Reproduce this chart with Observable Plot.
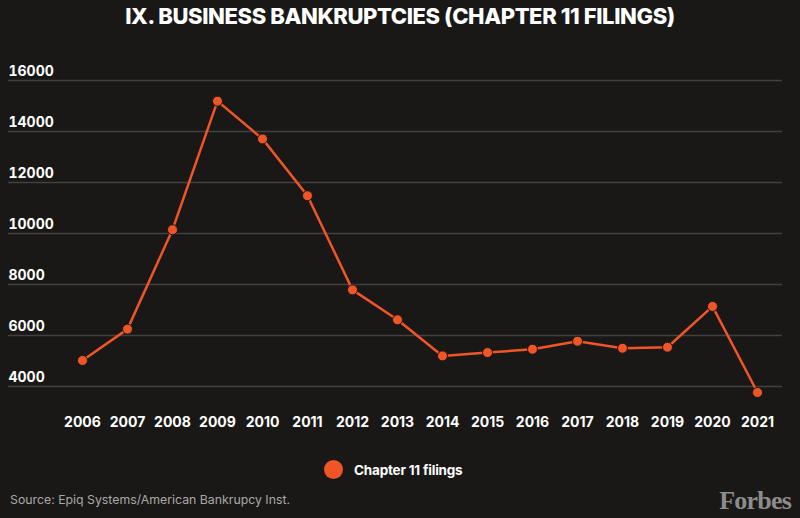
<!DOCTYPE html>
<html>
<head>
<meta charset="utf-8">
<script src="https://cdn.jsdelivr.net/npm/d3@7"></script>
<script src="https://cdn.jsdelivr.net/npm/@observablehq/plot@0.6"></script>
<style>
  html, body { margin: 0; padding: 0; background: #1a1817; }
  #wrap { position: relative; width: 800px; height: 518px; background: #1a1817; overflow: hidden; font-family: Inter, "Noto Sans", sans-serif; }
  #title { position: absolute; left: 0; top: 4px; width: 800px; text-align: center; color: #fff; font-weight: 800; font-size: 22px; letter-spacing: -0.4px; line-height: 24px; }
  #chart { position: absolute; left: 0; top: 40px; }
  #legend { position: absolute; left: 324px; top: 460px; display: flex; align-items: center; color: #fff; font-weight: 700; font-size: 13.5px; letter-spacing: -0.2px; }
  #legend .sw { width: 19px; height: 19px; border-radius: 50%; background: #ef5527; margin-right: 11px; }
  #source { position: absolute; left: 10px; top: 492px; color: #a8a8a8; font-size: 12.3px; }
  #logo { position: absolute; right: 9px; top: 486px; color: #8c8c8c; font-family: "Liberation Serif", "DejaVu Serif", serif; font-weight: 700; font-size: 26px; letter-spacing: -0.8px; }
</style>
</head>
<body>
<div id="wrap">
  <div id="title">IX. BUSINESS BANKRUPTCIES (CHAPTER 11 FILINGS)</div>
  <div id="chart"></div>
  <div id="legend"><span class="sw"></span><span>Chapter 11 filings</span></div>
  <div id="source">Source: Epiq Systems/American Bankrupcy Inst.</div>
  <div id="logo">Forbes</div>
</div>
<script>
const years = ["2006","2007","2008","2009","2010","2011","2012","2013","2014","2015","2016","2017","2018","2019","2020","2021"];
const filings = [5020, 6250, 10150, 15190, 13710, 11480, 7790, 6615, 5200, 5330, 5460, 5775, 5500, 5540, 7140, 3765];
const yTicks = [4000, 6000, 8000, 10000, 12000, 14000, 16000];

const data = years.map((y, i) => ({year: y, value: filings[i]}));
const color = "#ef5527";

const plot = Plot.plot({
  width: 800,
  height: 405,
  marginLeft: 8,
  marginRight: 18,
  marginTop: 40,
  marginBottom: 59,
  insetLeft: 71,
  insetRight: 23,
  style: {background: "transparent", color: "#fff", fontFamily: "Inter, 'Noto Sans', sans-serif"},
  x: {type: "point", domain: years, padding: 0},
  y: {domain: [4000, 16000], ticks: yTicks},
  marks: [
    Plot.ruleY(yTicks, {stroke: "#434140", strokeWidth: 1.5}),
    Plot.axisY({ticks: yTicks, tickSize: 0, tickPadding: 0, textAnchor: "start", dx: 0, dy: -9, fontSize: 14, fontWeight: 700, fill: "#fff", tickFormat: d => String(d), label: null}),
    Plot.axisX({tickSize: 0, tickPadding: 31, fontSize: 14, fontWeight: 700, fill: "#fff", label: null}),
    Plot.line(data, {x: "year", y: "value", stroke: color, strokeWidth: 2.5}),
    Plot.dot(data, {x: "year", y: "value", r: 5, fill: color, stroke: "#1a1817", strokeWidth: 1})
  ]
});
document.getElementById("chart").appendChild(plot);
</script>
</body>
</html>
